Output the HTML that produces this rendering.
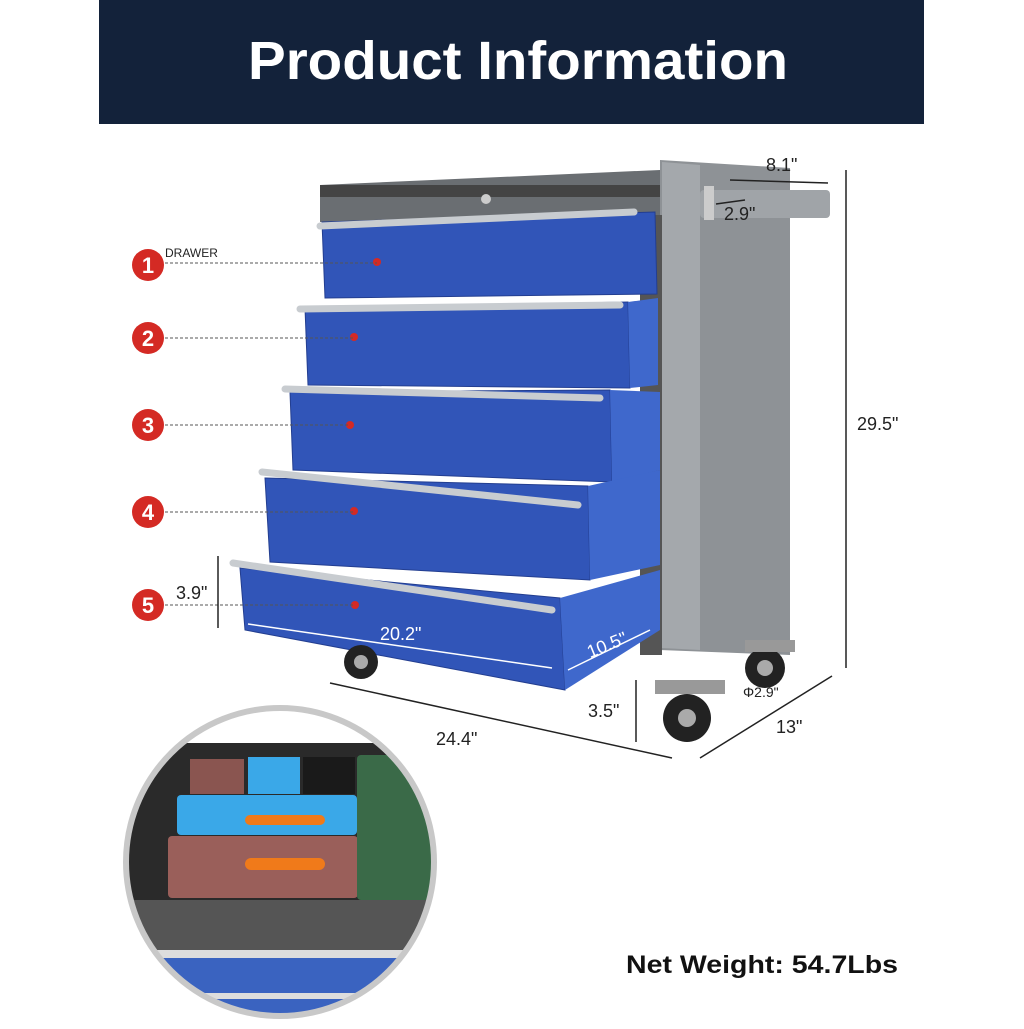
<!DOCTYPE html>
<html><head><style>
body{margin:0;width:1024px;height:1024px;background:#fff;overflow:hidden;font-family:"Liberation Sans",sans-serif}
</style></head><body>
<svg width="1024" height="1024" viewBox="0 0 1024 1024" xmlns="http://www.w3.org/2000/svg" font-family="Liberation Sans, sans-serif">
<rect x="99" y="0" width="825" height="124" fill="#13223a"/>
<text x="248" y="79" textLength="540" lengthAdjust="spacingAndGlyphs" font-size="54" font-weight="bold" fill="#fff">Product Information</text>

<!-- cabinet side -->
<polygon points="660,160 790,168 790,655 660,650" fill="#8e9296"/>
<polygon points="662,162 700,165 700,650 662,648" fill="#a4a8ac"/>
<rect x="700" y="190" width="130" height="28" rx="4" fill="#a0a4a8"/>
<rect x="704" y="186" width="10" height="34" fill="#ccc"/>
<!-- top -->
<polygon points="320,185 660,170 660,220 320,222" fill="#6a6e72"/>
<rect x="320" y="185" width="340" height="12" fill="#444"/>
<circle cx="486" cy="199" r="5" fill="#ccc"/>
<rect x="640" y="215" width="22" height="440" fill="#555"/>
<!-- drawers -->
<g fill="#3155b8" stroke="#233e90" stroke-width="1">
<polygon points="322,222 655,212 657,294 325,298"/>
<polygon points="305,308 628,302 630,388 308,385"/>
<polygon points="290,392 610,390 612,482 293,470"/>
<polygon points="265,478 588,486 590,580 270,562"/>
<polygon points="240,568 560,598 565,690 245,630"/>
</g>
<g fill="#3f68cc">
<polygon points="628,302 658,298 658,385 630,388"/>
<polygon points="610,390 660,392 660,470 612,482"/>
<polygon points="588,486 660,470 660,565 590,580"/>
<polygon points="560,598 660,570 660,630 565,690"/>
</g>
<g stroke="#c8ccd0" stroke-width="7" stroke-linecap="round">
<line x1="320" y1="226" x2="634" y2="212"/>
<line x1="300" y1="309" x2="620" y2="305"/>
<line x1="285" y1="389" x2="600" y2="398"/>
<line x1="262" y1="472" x2="578" y2="505"/>
<line x1="233" y1="563" x2="552" y2="610"/>
</g>
<!-- wheels -->
<circle cx="361" cy="662" r="17" fill="#222"/><circle cx="361" cy="662" r="7" fill="#aaa"/>
<circle cx="687" cy="718" r="24" fill="#222"/><circle cx="687" cy="718" r="9" fill="#aaa"/>
<circle cx="765" cy="668" r="20" fill="#222"/><circle cx="765" cy="668" r="8" fill="#aaa"/>
<rect x="655" y="680" width="70" height="14" fill="#999"/>
<rect x="745" y="640" width="50" height="12" fill="#999"/>

<!-- red markers -->
<g fill="#d42a24">
<circle cx="148" cy="265" r="16"/><circle cx="148" cy="338" r="16"/><circle cx="148" cy="425" r="16"/><circle cx="148" cy="512" r="16"/><circle cx="148" cy="605" r="16"/>
<circle cx="377" cy="262" r="4"/><circle cx="354" cy="337" r="4"/><circle cx="350" cy="425" r="4"/><circle cx="354" cy="511" r="4"/><circle cx="355" cy="605" r="4"/>
</g>
<g fill="#fff" font-size="22" font-weight="bold" text-anchor="middle">
<text x="148" y="273">1</text><text x="148" y="346">2</text><text x="148" y="433">3</text><text x="148" y="520">4</text><text x="148" y="613">5</text>
</g>
<g stroke="#555" stroke-dasharray="3,2" stroke-width="1">
<line x1="165" y1="263" x2="377" y2="263"/><line x1="165" y1="338" x2="354" y2="338"/><line x1="165" y1="425" x2="350" y2="425"/><line x1="165" y1="512" x2="354" y2="512"/><line x1="165" y1="605" x2="355" y2="605"/>
</g>
<text x="165" y="257" font-size="12" fill="#222">DRAWER</text>

<!-- dimensions -->
<g stroke="#222" stroke-width="1.5" fill="none">
<line x1="846" y1="170" x2="846" y2="668"/>
<line x1="330" y1="683" x2="672" y2="758"/>
<line x1="700" y1="758" x2="832" y2="676"/>
<line x1="636" y1="680" x2="636" y2="742"/>
<line x1="218" y1="556" x2="218" y2="628"/>
<line x1="730" y1="180" x2="828" y2="183"/>
<line x1="716" y1="204" x2="745" y2="200"/>
</g>
<g stroke="#fff" stroke-width="1.5"><line x1="248" y1="624" x2="552" y2="668"/><line x1="568" y1="670" x2="650" y2="630"/></g>
<g font-size="18" fill="#222">
<text x="857" y="430">29.5"</text>
<text x="436" y="745">24.4"</text>
<text x="776" y="733">13"</text>
<text x="588" y="717">3.5"</text>
<text x="176" y="599">3.9"</text>
<text x="766" y="171">8.1"</text>
<text x="724" y="220">2.9"</text>
<text x="743" y="697" font-size="14">Φ2.9"</text>
<text x="380" y="640" fill="#fff">20.2"</text>
<text x="588" y="652" fill="#fff" transform="rotate(-22 605 650)">10.5"</text>
</g>

<!-- inset circle -->
<defs><clipPath id="c"><circle cx="280" cy="862" r="152"/></clipPath></defs>
<g clip-path="url(#c)">
<rect x="120" y="700" width="330" height="330" fill="#fff"/>
<rect x="120" y="743" width="330" height="160" fill="#2a2a2a"/>
<rect x="120" y="900" width="330" height="50" fill="#555"/>
<rect x="120" y="950" width="330" height="8" fill="#ddd"/>
<rect x="120" y="958" width="330" height="35" fill="#3a63c0"/>
<rect x="120" y="993" width="330" height="6" fill="#ddd"/>
<rect x="120" y="999" width="330" height="30" fill="#3a63c0"/>
<rect x="190" y="759" width="54" height="35" fill="#8a5550"/>
<rect x="248" y="757" width="52" height="37" fill="#3aa8e8"/>
<rect x="303" y="757" width="52" height="37" fill="#1a1a1a"/>
<rect x="177" y="795" width="180" height="40" rx="4" fill="#3aa8e8"/>
<rect x="168" y="836" width="190" height="62" rx="4" fill="#9a5f5a"/>
<rect x="357" y="755" width="80" height="145" rx="4" fill="#3a6a48"/>
<rect x="245" y="815" width="80" height="10" rx="5" fill="#f07a1a"/>
<rect x="245" y="858" width="80" height="12" rx="6" fill="#f07a1a"/>
</g>
<circle cx="280" cy="862" r="154" fill="none" stroke="#c8c8c8" stroke-width="6"/>

<text x="626" y="973" textLength="272" lengthAdjust="spacingAndGlyphs" font-size="25" font-weight="bold" fill="#111">Net Weight: 54.7Lbs</text>
</svg>
</body></html>
